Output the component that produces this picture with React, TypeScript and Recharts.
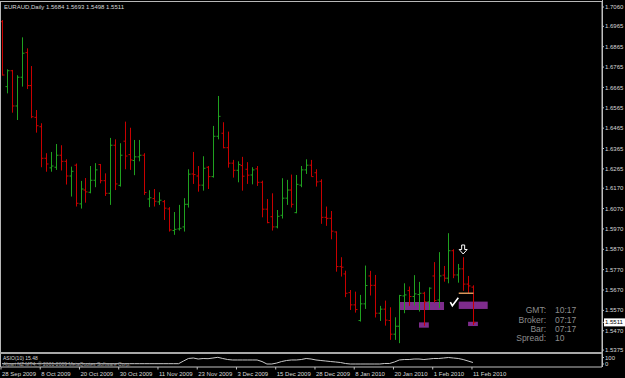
import {
  Bar,
  ComposedChart,
  Line,
  ReferenceArea,
  ReferenceDot,
  ReferenceLine,
  XAxis,
  YAxis,
} from "recharts";

// EURAUD daily bars, 28 Sep 2009 .. 11 Feb 2010
const open = [
  1.6988, 1.6669, 1.6747, 1.6574, 1.6715, 1.6836, 1.6674, 1.6518, 1.6472, 1.6317,
  1.627, 1.6273, 1.6332, 1.6302, 1.623, 1.6283, 1.6093, 1.6161, 1.615, 1.6209,
  1.6286, 1.6207, 1.6145, 1.6381, 1.6184, 1.6401, 1.6335, 1.6306, 1.6324, 1.6332,
  1.6117, 1.6119, 1.6103, 1.6104, 1.6068, 1.5962, 1.597, 1.598, 1.6091, 1.624,
  1.623, 1.6185, 1.6273, 1.6227, 1.6425, 1.644, 1.6369, 1.6293, 1.6258, 1.6281,
  1.6263, 1.6235, 1.6265, 1.6199, 1.6067, 1.603, 1.598, 1.6037, 1.6121, 1.6161,
  1.605, 1.6185, 1.626, 1.6283, 1.6246, 1.6204, 1.6027, 1.6022, 1.5955, 1.5785,
  1.5749, 1.5657, 1.5597, 1.552, 1.5602, 1.5739, 1.5693, 1.5556, 1.5576, 1.552,
  1.5453, 1.5492, 1.5641, 1.5667, 1.5638, 1.5648, 1.5654, 1.5612, 1.5739, 1.5621,
  1.5743, 1.5728, 1.5863, 1.5744, 1.5774, 1.5699, 1.5684,
];
const high = [
  1.6996, 1.6754, 1.6751, 1.6725, 1.6911, 1.6857, 1.677, 1.6554, 1.6489, 1.6342,
  1.6348, 1.6387, 1.6381, 1.6312, 1.6276, 1.6291, 1.6206, 1.622, 1.6279, 1.6293,
  1.6289, 1.6243, 1.6417, 1.641, 1.6391, 1.6497, 1.6467, 1.6407, 1.6407, 1.6342,
  1.616, 1.6166, 1.615, 1.6112, 1.6077, 1.6053, 1.6088, 1.6121, 1.6263, 1.6348,
  1.6279, 1.6327, 1.6279, 1.6476, 1.6623, 1.6494, 1.6448, 1.6309, 1.6302, 1.6324,
  1.6298, 1.6273, 1.6279, 1.6207, 1.6117, 1.6145, 1.6063, 1.6219, 1.6211, 1.6237,
  1.6235, 1.6279, 1.6312, 1.6309, 1.6263, 1.6214, 1.608, 1.6058, 1.5958, 1.5831,
  1.5765, 1.567, 1.5662, 1.5646, 1.579, 1.5764, 1.5744, 1.5592, 1.5618, 1.5585,
  1.5536, 1.5646, 1.5703, 1.5687, 1.5743, 1.571, 1.5661, 1.5683, 1.5807, 1.5856,
  1.5788, 1.5949, 1.587, 1.5798, 1.5831, 1.5739, 1.5693,
];
const low = [
  1.6723, 1.6636, 1.6541, 1.6505, 1.6669, 1.6657, 1.6514, 1.6443, 1.6273, 1.6251,
  1.6251, 1.626, 1.6257, 1.6188, 1.6129, 1.608, 1.607, 1.6099, 1.6145, 1.6175,
  1.6194, 1.6132, 1.6088, 1.6161, 1.6178, 1.6263, 1.626, 1.6234, 1.6302, 1.6137,
  1.6077, 1.608, 1.6088, 1.6014, 1.5957, 1.5941, 1.5962, 1.5957, 1.6075, 1.6191,
  1.6153, 1.6158, 1.6166, 1.6222, 1.641, 1.6366, 1.6271, 1.6222, 1.6199, 1.6158,
  1.6191, 1.6189, 1.6181, 1.6027, 1.5998, 1.5962, 1.5973, 1.6021, 1.6088, 1.6075,
  1.6047, 1.6175, 1.624, 1.6227, 1.6178, 1.5995, 1.5985, 1.5919, 1.576, 1.5736,
  1.5635, 1.5572, 1.5559, 1.5515, 1.5577, 1.5643, 1.5535, 1.5518, 1.5495, 1.5425,
  1.5425, 1.5409, 1.5556, 1.5592, 1.5594, 1.5564, 1.5494, 1.5572, 1.5608, 1.5581,
  1.5711, 1.5703, 1.5728, 1.5706, 1.5666, 1.5654, 1.5498,
];
const close = [
  1.6726, 1.6747, 1.6574, 1.6715, 1.6833, 1.6674, 1.6521, 1.6477, 1.6317, 1.6289,
  1.6279, 1.6332, 1.6302, 1.623, 1.6253, 1.6096, 1.6166, 1.6152, 1.6209, 1.626,
  1.6207, 1.6145, 1.6381, 1.6191, 1.6332, 1.6328, 1.6309, 1.6324, 1.6332, 1.6149,
  1.6123, 1.6106, 1.6111, 1.6072, 1.5965, 1.5968, 1.5973, 1.6091, 1.6239, 1.6237,
  1.6185, 1.6268, 1.6227, 1.6425, 1.6523, 1.6369, 1.6293, 1.6258, 1.6286, 1.6229,
  1.6234, 1.626, 1.6199, 1.6067, 1.6001, 1.598, 1.6032, 1.6121, 1.6161, 1.6091,
  1.6189, 1.626, 1.6283, 1.6227, 1.6201, 1.6027, 1.6022, 1.5959, 1.5785, 1.5782,
  1.5654, 1.5597, 1.5574, 1.5602, 1.5692, 1.5693, 1.5556, 1.5576, 1.5522, 1.5453,
  1.5492, 1.5643, 1.5646, 1.5638, 1.5651, 1.5654, 1.5612, 1.5679, 1.5618, 1.5739,
  1.5728, 1.5863, 1.5744, 1.5774, 1.5699, 1.569, 1.5511,
];
// oscillator in the sub window
const indicator = [
  5, 5, 5, 5, 5, 5, 5, 5, 5, 5, 5, 5, 5, 5, 5, 5, 5, 5, 5, 5,
  5, 5, 5, 5, 5, 5, 5, 5, 5, 5, 5, 5, 5, 5, 5, 5, 5, 46, 85, 92,
  77, 85, 82, 92, 103, 85, 69, 62, 62, 62, 62, 62, 62, 38, 0, 0, 15, 38, 54, 62,
  62, 69, 85, 77, 62, 54, 46, 38, 31, 23, 8, 0, 0, 0, 0, 0, 0, 0, 8, 8,
  31, 62, 69, 69, 77, 77, 69, 77, 85, 85, 92, 100, 92, 85, 69, 46, 23,
];
const dateLabels = [
  "28 Sep 2009", "8 Oct 2009", "20 Oct 2009", "30 Oct 2009", "11 Nov 2009",
  "23 Nov 2009", "3 Dec 2009", "15 Dec 2009", "28 Dec 2009", "8 Jan 2010",
  "20 Jan 2010", "1 Feb 2010", "11 Feb 2010",
];
const priceTicks = [
  1.706, 1.6965, 1.6865, 1.6765, 1.6665, 1.6565, 1.6465, 1.6365, 1.6265, 1.617,
  1.607, 1.597, 1.587, 1.577, 1.567, 1.557, 1.547, 1.5375,
];
const lastPrice = 1.5511;

const bars = open.map((o, i) => ({
  i,
  open: o,
  high: high[i],
  low: low[i],
  close: close[i],
  ind: indicator[i],
}));

const FONT = '"Liberation Sans", Arial, sans-serif';
const UP = "#1fa01f";
const DOWN = "#c80000";
const AXIS = "#c0c0c0";
const TEXT = "#d8d8d8";
const PURPLE = "#7e2c8c";
const X_DOMAIN: [number, number] = [-0.2, 122.3];

const OhlcShape = (props: any) => {
  const { x, y, width, height, payload } = props;
  if (payload == null || height == null) return null;
  const top = Math.min(y, y + height);
  const h = Math.abs(height);
  const cx = Math.round(x + width / 2) + 0.5;
  const span = payload.high - payload.low || 1;
  const yOf = (v: number) => top + ((payload.high - v) / span) * h;
  const color = payload.close >= payload.open ? UP : DOWN;
  return (
    <g stroke={color} strokeWidth={1}>
      <line x1={cx} x2={cx} y1={top} y2={top + h} />
      <line x1={cx - 2} x2={cx} y1={yOf(payload.open)} y2={yOf(payload.open)} />
      <line x1={cx} x2={cx + 2} y1={yOf(payload.close)} y2={yOf(payload.close)} />
    </g>
  );
};

const PriceTick = (props: any) => {
  const { x, y, payload } = props;
  const v = payload.value as number;
  if (v === lastPrice) {
    return (
      <g>
        <rect x={x - 1} y={y - 4} width={21} height={8} fill="#ffffff" />
        <text x={x} y={y} dy="0.35em" fill="#000" fontSize={6} fontFamily={FONT}>
          {v.toFixed(4)}
        </text>
      </g>
    );
  }
  return (
    <text x={x} y={y} dy="0.35em" fill={TEXT} fontSize={6} fontFamily={FONT}>
      {v.toFixed(4)}
    </text>
  );
};

const IndTick = (props: any) => {
  const { x, y, payload } = props;
  return (
    <text x={x} y={y} dy="0.35em" fill={TEXT} fontSize={6} fontFamily={FONT}>
      {payload.value}
    </text>
  );
};

const DateTick = (props: any) => {
  const { x, y, payload } = props;
  const label = dateLabels[Math.round(payload.value / 8)];
  return (
    <g>
      <line x1={x - 1} x2={x - 1} y1={y} y2={y + 2.5} stroke={AXIS} />
      <text x={x} y={y + 8.7} fill={TEXT} fontSize={6} fontFamily={FONT}>
        {label}
      </text>
    </g>
  );
};

const Check = (props: any) => {
  const { cx, cy } = props;
  return (
    <path
      d={`M${cx - 4},${cy} L${cx - 2},${cy + 3.5} L${cx + 4},${cy - 4.5}`}
      stroke="#ffffff"
      strokeWidth={1.6}
      fill="none"
    />
  );
};

const DownArrow = (props: any) => {
  const { cx, cy } = props;
  return (
    <path
      d={`M${cx - 1.5},${cy - 4.5} h3 v4.5 h2.5 l-4,4.5 l-4,-4.5 h2.5 z`}
      stroke="#ffffff"
      strokeWidth={1}
      fill="#000"
    />
  );
};

export default function App() {
  const dateTicks = dateLabels.map((_, k) => k * 8);
  return (
    <div
      style={{
        position: "absolute",
        left: 0,
        top: 0,
        width: 625,
        height: 378,
        background: "#000",
        overflow: "hidden",
      }}
    >
      <div style={{ position: "absolute", left: 0, top: 0 }}>
        <ComposedChart
          width={625}
          height={354}
          data={bars}
          margin={{ top: 2, right: 0, bottom: 2, left: 1 }}
        >
          <XAxis dataKey="i" type="number" domain={X_DOMAIN} hide allowDataOverflow />
          <YAxis
            orientation="right"
            width={23}
            domain={[1.53655, 1.70846]}
            allowDataOverflow
            ticks={[...priceTicks, lastPrice]}
            interval={0}
            tickSize={2}
            tickMargin={1}
            axisLine={{ stroke: AXIS }}
            tickLine={{ stroke: AXIS }}
            tick={<PriceTick />}
          />
          <ReferenceArea x1={81} x2={90.1} y1={1.5572} y2={1.5611} fill={PURPLE} fillOpacity={1} stroke="none" />
          <ReferenceArea x1={93.1} x2={99} y1={1.5577} y2={1.5613} fill={PURPLE} fillOpacity={1} stroke="none" />
          <ReferenceArea x1={85} x2={87} y1={1.5485} y2={1.5511} fill={PURPLE} fillOpacity={1} stroke="none" />
          <ReferenceArea x1={95} x2={97} y1={1.5493} y2={1.5514} fill={PURPLE} fillOpacity={1} stroke="none" />
          <Bar
            dataKey={(d: any) => [d.low, d.high]}
            barSize={3}
            shape={(p: any) => <OhlcShape {...p} />}
            isAnimationActive={false}
          />
          <ReferenceLine
            segment={[
              { x: 93.1, y: 1.5654 },
              { x: 96.1, y: 1.5654 },
            ]}
            stroke="#d9955a"
            strokeWidth={1.5}
          />
          <ReferenceDot x={92.2} y={1.5610} r={4} shape={(p: any) => <Check {...p} />} />
          <ReferenceDot x={94} y={1.5869} r={4} shape={(p: any) => <DownArrow {...p} />} />
        </ComposedChart>
      </div>
      <div style={{ position: "absolute", left: 0, top: 354 }}>
        <ComposedChart
          width={625}
          height={24}
          data={bars}
          margin={{ top: 0, right: 0, bottom: 0, left: 1 }}
        >
          <XAxis
            dataKey="i"
            type="number"
            domain={X_DOMAIN}
            allowDataOverflow
            height={11}
            ticks={dateTicks}
            interval={0}
            tickSize={0}
            tickMargin={0}
            tickLine={false}
            axisLine={{ stroke: AXIS }}
            tick={<DateTick />}
          />
          <YAxis
            orientation="right"
            width={23}
            domain={[-46, 154]}
            allowDataOverflow
            ticks={[0, 100]}
            interval={0}
            tickSize={2}
            tickMargin={1}
            axisLine={{ stroke: AXIS }}
            tickLine={{ stroke: AXIS }}
            tick={<IndTick />}
          />
          <Line
            dataKey="ind"
            type="linear"
            stroke="#c8c8c8"
            strokeWidth={1}
            dot={false}
            isAnimationActive={false}
          />
        </ComposedChart>
      </div>
      <svg
        width={625}
        height={378}
        style={{ position: "absolute", left: 0, top: 0, pointerEvents: "none" }}
        fontFamily={FONT}
      >
        <line x1={0} x2={603} y1={1.5} y2={1.5} stroke="#b8b8b8" />
        <line x1={0.5} x2={0.5} y1={1} y2={367} stroke="#b8b8b8" />
        <line x1={602.5} x2={602.5} y1={0} y2={367} stroke={AXIS} />
        <rect x={0} y={352} width={603} height={2} fill="#a8a8a8" />
        <text x={4} y={9} fontSize={6} fill={TEXT}>
          EURAUD,Daily  1.5684 1.5693 1.5498 1.5511
        </text>
        <text x={3} y={359.6} fontSize={5} fill={TEXT}>
          ASIO(10) 15.48
        </text>
        <text x={3} y={365.6} fontSize={5} fill="#a0a0a0">
          Alpari NZ MT4, © 2001-2009 MetaQuotes Software Corp.
        </text>
        <g fontSize={8.5} fill="#8c8c8c">
          <text x={546} y={313.3} textAnchor="end">GMT:</text>
          <text x={555} y={313.3}>10:17</text>
          <text x={546} y={322.6} textAnchor="end">Broker:</text>
          <text x={555} y={322.6}>07:17</text>
          <text x={546} y={331.8} textAnchor="end">Bar:</text>
          <text x={555} y={331.8}>07:17</text>
          <text x={546} y={341} textAnchor="end">Spread:</text>
          <text x={555} y={341}>10</text>
        </g>
      </svg>
    </div>
  );
}
